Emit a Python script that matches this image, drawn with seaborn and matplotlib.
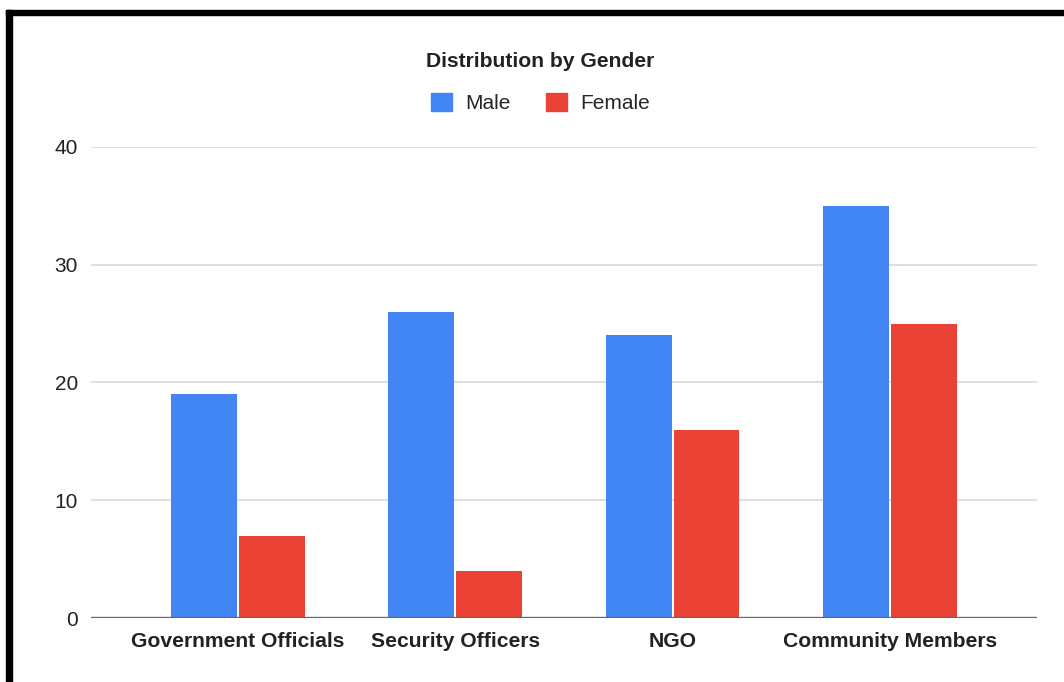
import matplotlib
matplotlib.use("Agg")
import matplotlib.pyplot as plt
from matplotlib.patches import Rectangle, Patch
import seaborn as sns
import pandas as pd

categories = ["Government Officials", "Security Officers", "NGO", "Community Members"]
male = [19, 26, 24, 35]
female = [7, 4, 16, 25]
series_names = ["Male", "Female"]
colors = ["#4285F4", "#EA4335"]
y_ticks = [0, 10, 20, 30, 40]

df = pd.DataFrame({
    "category": categories * 2,
    "gender": [series_names[0]] * len(categories) + [series_names[1]] * len(categories),
    "count": male + female,
})

sns.set_theme(style="white")
plt.rcParams["font.family"] = ["Liberation Sans", "DejaVu Sans"]

fig = plt.figure(figsize=(10.64, 6.82), dpi=100)
ax = fig.add_axes([0.0855, 0.0938, 0.889, 0.6907])

sns.barplot(data=df, x="category", y="count", hue="gender", order=categories,
            hue_order=series_names, palette=colors, width=0.625, gap=0.03,
            linewidth=0, saturation=1, ax=ax, legend=False)

ax.set_xlim(-0.676, 3.676)
ax.set_ylim(0, 40)
ax.set_yticks(y_ticks)
ax.set_yticklabels([str(t) for t in y_ticks], fontsize=15, color="#222222")
ax.set_xlabel("")
ax.set_ylabel("")
for lbl in ax.get_xticklabels():
    lbl.set_fontweight("bold")
    lbl.set_fontsize(15.2)
    lbl.set_color("#222222")
ax.tick_params(axis="y", length=0, pad=9.5)
ax.tick_params(axis="x", length=0, pad=10)

for t in y_ticks[1:]:
    ax.axhline(t, color="#d9d9d9", linewidth=1.2, zorder=0)
ax.axhline(0, color="#666666", linewidth=2.4, zorder=3)
for s in ax.spines.values():
    s.set_visible(False)
ax.grid(False)

fig.text(0.508, 0.910, "Distribution by Gender", ha="center", va="center",
         fontsize=15.2, fontweight="bold", color="#222222")
handles = [Patch(facecolor=c, edgecolor=c) for c in colors]
fig.legend(handles, series_names, loc="center", bbox_to_anchor=(0.508, 0.849),
           ncol=2, frameon=False, fontsize=15, handlelength=1.0, handleheight=1.0,
           handletextpad=0.65, columnspacing=1.7)

# black frame lines along the top and left edges
fig.patches.append(Rectangle((6 / 1064, 1 - 15 / 682), 1, 5 / 682,
                             transform=fig.transFigure, color="black", zorder=10))
fig.patches.append(Rectangle((6 / 1064, 0), 6 / 1064, 1 - 10 / 682,
                             transform=fig.transFigure, color="black", zorder=10))

fig.savefig("out.png", dpi=100, facecolor="white")
